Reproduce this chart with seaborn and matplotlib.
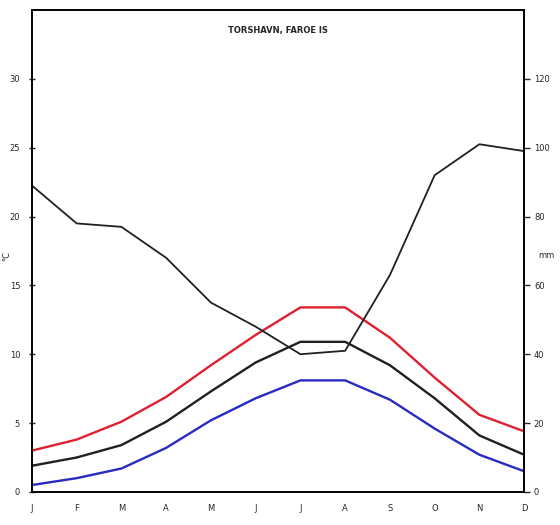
import pandas as pd
import matplotlib
matplotlib.use("Agg")
import matplotlib.pyplot as plt
import seaborn as sns

# monthly climate values
months = ["J", "F", "M", "A", "M", "J", "J", "A", "S", "O", "N", "D"]
temp_max = [3.0, 3.8, 5.1, 6.9, 9.2, 11.4, 13.4, 13.4, 11.2, 8.3, 5.6, 4.4]
temp_mean = [1.9, 2.5, 3.4, 5.1, 7.3, 9.4, 10.9, 10.9, 9.2, 6.8, 4.1, 2.7]
temp_min = [0.5, 1.0, 1.7, 3.2, 5.2, 6.8, 8.1, 8.1, 6.7, 4.6, 2.7, 1.5]
precip = [89, 78, 77, 68, 55, 48, 40, 41, 63, 92, 101, 99]

title = "TORSHAVN, FAROE IS"
temp_ticks = [0, 5, 10, 15, 20, 25, 30]
precip_ticks = [0, 20, 40, 60, 80, 100, 120]

sns.set_style("white")
plt.rcParams["font.family"] = ["DejaVu Sans"]

df = pd.DataFrame(
    {
        "month": list(range(1, 13)),
        "max": temp_max,
        "mean": temp_mean,
        "min": temp_min,
        "precip": precip,
    }
)

fig = plt.figure(figsize=(5.6, 5.25), dpi=100)
ax = fig.add_axes([0.057, 0.063, 0.879, 0.918])
ax2 = ax.twinx()

sns.lineplot(data=df, x="month", y="max", ax=ax, color="#e02030", linewidth=1.7)
sns.lineplot(data=df, x="month", y="mean", ax=ax, color="#202020", linewidth=1.7)
sns.lineplot(data=df, x="month", y="min", ax=ax, color="#2a2ac0", linewidth=1.7)
sns.lineplot(data=df, x="month", y="precip", ax=ax2, color="#202020", linewidth=1.3)

ax.set_xlim(1, 12)
ax.set_ylim(0, 35)
ax2.set_ylim(0, 140)
ax.set_xticks(df["month"])
ax.set_xticklabels(months, fontsize=6)
ax.set_yticks(temp_ticks)
ax.set_yticklabels(temp_ticks, fontsize=6)
ax2.set_yticks(precip_ticks)
ax2.set_yticklabels(precip_ticks, fontsize=6)

ax.set_xlabel("")
ax.set_ylabel("°C", fontsize=6)
ax.yaxis.set_label_coords(-0.042, 0.49)
ax2.set_ylabel("mm", fontsize=6, rotation=0, va="center")
ax2.yaxis.set_label_coords(1.045, 0.49)

ax.tick_params(axis="y", direction="inout", length=5, width=1, pad=6)
ax.tick_params(axis="x", direction="out", length=5, width=1, pad=4)
ax2.tick_params(axis="y", direction="out", length=4, width=1, pad=3)

for a in (ax, ax2):
    for s in a.spines.values():
        s.set_color("black")
        s.set_linewidth(1.2)

ax.text(0.5, 0.958, title, transform=ax.transAxes, ha="center", va="center",
        fontsize=6, fontweight="bold")

fig.savefig("out.png", dpi=100)
